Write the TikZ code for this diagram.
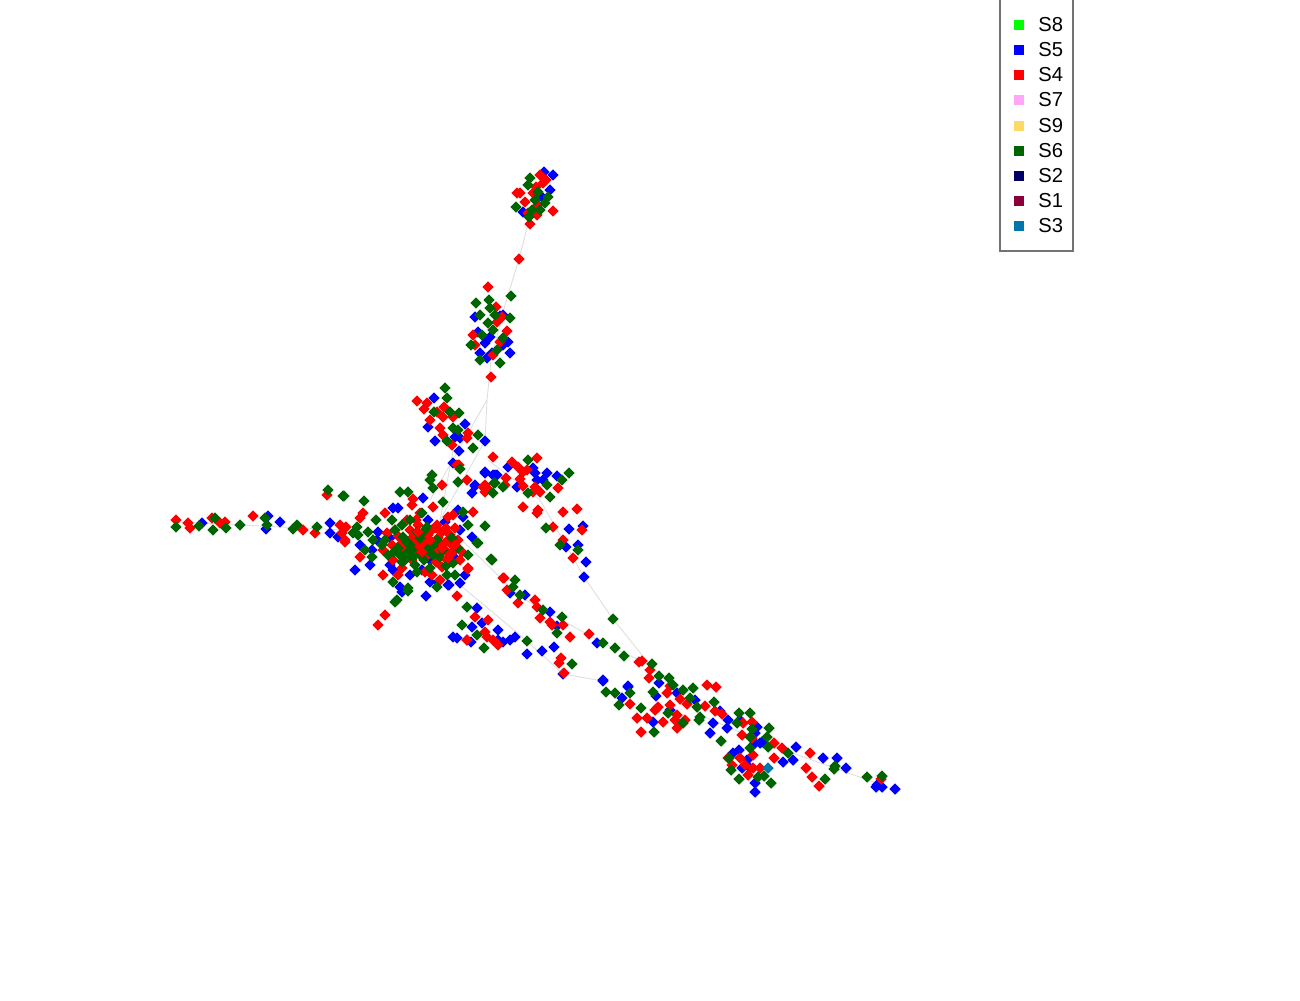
\documentclass[tikz,border=0pt]{standalone}
\usepackage{fontspec}
\setmainfont{Liberation Sans}
\usetikzlibrary{shapes.geometric}
\definecolor{cR}{HTML}{FF0000}
\definecolor{cB}{HTML}{0000FF}
\definecolor{cG}{HTML}{006400}
\definecolor{cS8}{HTML}{00FF00}
\definecolor{cS7}{HTML}{FFA8F8}
\definecolor{cS9}{HTML}{FFD966}
\definecolor{cS2}{HTML}{000066}
\definecolor{cS1}{HTML}{8B0038}
\definecolor{cS3}{HTML}{0077AA}
\definecolor{cEdge}{HTML}{DEDEDE}
\begin{document}
\begin{tikzpicture}[x=0.02cm,y=-0.02cm,
  pt/.style={diamond,inner sep=0pt,minimum width=0.235cm,minimum height=0.235cm,draw=none},
  edge/.style={draw=cEdge,line width=0.5pt},
  lsq/.style={rectangle,inner sep=0pt,minimum size=0.2cm,draw=none},
  ltxt/.style={anchor=west,inner sep=0pt,font=\fontsize{11.5}{13}\selectfont}]
\useasboundingbox (0,0) rectangle (1300,1000);
% edge way points
\coordinate (e1) at (529,220); \coordinate (e2) at (519,259); \coordinate (e3) at (505,305);
\coordinate (e4) at (491,360); \coordinate (e5) at (487,400); \coordinate (e6) at (485,441);
\coordinate (e7) at (176,522); \coordinate (e8) at (345,530); \coordinate (e9) at (405,540);
\coordinate (e10) at (540,500); \coordinate (e11) at (584,577); \coordinate (e12) at (613,619);
\coordinate (e13) at (650,665); \coordinate (e14) at (470,548); \coordinate (e15) at (603,643);
\coordinate (e16) at (563,674); \coordinate (e17) at (603,681); \coordinate (e18) at (770,745);
\coordinate (e19) at (882,785); \coordinate (e20) at (460,585); \coordinate (e21) at (527,641);
\coordinate (e22) at (440,520); \coordinate (e23) at (488,460); \coordinate (e24) at (520,597);
\coordinate (e25) at (700,715); \coordinate (e26) at (455,440); \coordinate (e27) at (430,500);
\draw[edge] (e1) -- (e2) -- (e3);
\draw[edge] (e3) -- (e4) -- (e5) -- (e6) -- (e22);
\draw[edge] (e5) -- (e27);
\draw[edge] (e7) -- (e8) -- (e9);
\draw[edge] (e23) -- (e10) -- (e11) -- (e12) -- (e13);
\draw[edge] (e14) -- (e24) -- (e15) -- (e13);
\draw[edge] (e20) -- (e21) -- (e16) -- (e17);
\draw[edge] (e13) -- (e25) -- (e18) -- (e19);
\draw[edge] (e26) -- (e22) -- (e14);
% blue
\foreach \x/\y [count=\i] in {544/172,553/175,550/190,523/212,542/197,
475/317,503/315,478/332,490/337,508/342,485/343,480/353,492/353,510/353,487/358,503/345,500/316,
434/398,465/424,428/427,485/441,435/441,460/438,459/451,455/437,
508/467,485/472,495/475,533/468,547/473,557/476,537/480,517/487,475/486,472/493,453/463,543/480,497/475,535/473,569/529,583/526,566/547,578/545,586/562,584/577,475/485,485/473,493/475,
202/523,268/516,266/529,280/522,330/523,330/533,338/537,
423/498,393/508,398/508,378/532,377/540,360/545,372/550,355/570,370/565,390/565,400/587,402/592,426/596,438/582,448/585,477/608,463/517,472/537,460/530,428/520,445/522,455/558,465/575,430/560,427/548,422/570,410/575,430/582,390/538,393/570,458/510,415/540,437/548,
460/583,449/585,472/627,482/623,453/637,457/638,467/640,471/642,498/630,498/640,503/642,510/640,515/637,527/654,542/651,554/647,563/674,510/593,525/595,550/612,557/626,597/643,603/680,628/687,
659/683,603/681,622/698,653/722,628/686,656/696,677/693,695/700,670/710,720/711,728/720,727/728,713/723,710/733,740/720,757/727,755/733,755/743,733/753,739/750,742/768,747/760,750/768,755/783,755/792,760/743,762/742,783/762,793/760,796/747,823/758,837/758,846/768,877/785,882/787,895/789,876/787}
  \node[pt,fill=cB] (b\i) at (\x,\y) {};
% red
\foreach \x/\y [count=\i] in {540/175,517/193,536/187,543/183,525/202,553/211,537/215,530/224,533/193,528/213,520/193,546/180,538/205,
519/259,488/287,
496/307,502/317,507/331,473/335,500/342,475/345,493/355,491/377,497/322,
417/401,427/403,424/409,444/407,430/420,443/417,453/417,440/428,468/433,443/435,452/445,467/438,437/412,
493/457,537/458,512/462,518/467,527/470,506/478,520/479,523/486,487/488,467/480,457/465,442/485,535/487,558/488,485/492,523/472,540/492,533/492,523/507,538/510,537/513,563/512,577/509,553/527,582/530,563/540,573/558,504/578,483/487,459/465,505/485,485/485,
176/520,188/523,190/528,212/518,220/523,225/522,253/516,303/530,315/533,340/525,345/528,345/542,327/495,
413/499,385/513,363/513,360/518,346/527,342/533,345/540,387/533,360/557,383/550,383/575,398/575,385/615,378/625,457/596,475/617,503/578,518/603,473/512,448/517,433/507,412/505,420/513,418/525,437/525,442/532,455/528,455/550,450/555,447/560,468/568,442/567,417/542,412/560,425/572,440/580,428/535,443/545,448/540,410/530,393/560,402/568,415/550,453/515,430/545,435/552,425/540,445/550,452/545,432/530,407/520,395/530,400/545,
438/538,446/528,458/540,462/552,436/562,428/555,420/546,412/538,404/548,392/545,398/536,426/530,416/520,450/535,460/560,432/575,
468/569,488/620,485/632,487/637,493/640,498/645,561/658,559/663,564/673,507/590,535/600,537/607,540/618,550/622,552/625,563/625,570/637,589/634,639/662,467/640,
642/661,650/670,649/678,630/704,637/718,647/718,641/732,655/710,663/722,658/707,667/693,670/686,707/685,716/687,680/699,687/704,670/705,677/715,675/720,685/720,677/728,705/706,715/711,722/714,752/722,743/723,742/735,752/738,753/755,728/758,740/758,732/765,745/765,753/768,748/775,760/768,774/743,782/748,774/758,810/753,806/768,812/777,819/786,881/779}
  \node[pt,fill=cR] (r\i) at (\x,\y) {};
% green
\foreach \x/\y [count=\i] in {530/178,528/185,548/197,516/207,532/210,540/210,535/200,545/203,529/217,538/192,
511/296,
476/303,489/300,490/308,480/315,510/318,488/323,493/330,482/335,503/338,471/345,480/360,500/363,497/350,495/315,
445/388,447/398,434/412,459/413,450/412,453/428,478/435,447/441,473/448,458/430,
528/460,569/473,562/480,460/469,432/475,430/480,433/488,547/485,528/493,550/497,495/483,503/487,546/528,560/545,578/550,491/559,515/580,493/493,485/526,
176/527,199/526,215/518,213/530,226/528,240/525,265/518,267/525,297/525,293/529,317/527,353/533,328/490,343/496,
344/496,364/501,400/492,408/492,376/520,357/527,358/535,368/532,373/540,365/550,372/557,393/582,408/588,395/602,437/587,467/607,492/560,468/525,477/543,443/502,422/513,427/527,452/538,458/548,468/555,455/575,453/563,440/557,427/550,413/557,407/542,398/548,400/555,405/560,430/568,417/572,447/575,423/532,437/540,443/550,417/532,402/525,403/537,407/553,382/545,463/512,458/482,494/483,397/600,408/591,395/530,410/545,420/555,388/555,433/555,415/565,
394/552,402/562,412/550,424/560,420/538,432/546,446/566,410/520,385/540,392/520,
478/543,462/625,477/635,484/648,527/641,572/664,513/587,520/595,543/610,562/617,557/633,603/643,615/648,624/656,613/619,
652/664,659/676,669/678,606/692,615/693,619/705,641/708,654/732,630/693,653/692,673/685,683/690,693/688,690/698,668/713,683/723,697/707,714/702,700/717,699/720,739/713,750/713,737/723,769/728,752/729,750/737,767/737,721/741,729/758,731/770,758/777,771/783,739/779,764/776,750/748,768/747,788/753,825/779,835/766,834/769,867/777,882/776}
  \node[pt,fill=cG] (g\i) at (\x,\y) {};
% a few red drawn on top in the dense core
\foreach \x/\y [count=\i] in {430/540,442/548,418/532,455/545,436/528,448/558,422/552}
  \node[pt,fill=cR] (rt\i) at (\x,\y) {};
\node[pt,fill=cS3] (t1) at (768,768) {};
% legend
\draw[draw=black!55,line width=0.6pt] (1000,-3) -- (1000,251) -- (1073,251) -- (1073,-3);
\foreach \c/\t/\y [count=\i] in {cS8/S8/25,cB/S5/50,cR/S4/75,cS7/S7/100,cS9/S9/126,cG/S6/151,cS2/S2/176,cS1/S1/201,cS3/S3/226}{
  \node[lsq,fill=\c] (lk\i) at (1019,\y) {};
  \node[ltxt] (lt\i) at (1038,\y) {\t};
}
\end{tikzpicture}
\end{document}
